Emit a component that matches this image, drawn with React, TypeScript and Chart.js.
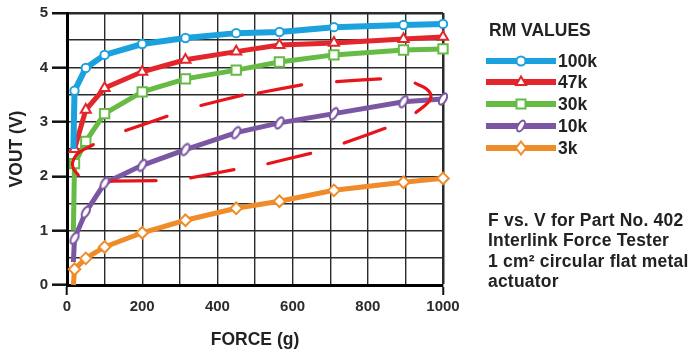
import React, { useEffect, useRef } from 'react';
import { Chart, registerables } from 'chart.js';

Chart.register(...registerables);

// ---------- data ----------
const FORCE = [20, 50, 100, 200, 315, 450, 565, 710, 895, 1000];
const START_FORCE = 17;
const SERIES_NAMES = ['100k', '47k', '30k', '10k', '3k'];
const V_100K = [3.57, 3.99, 4.23, 4.43, 4.54, 4.63, 4.65, 4.74, 4.78, 4.8];
const V_47K = [2.5, 3.22, 3.62, 3.92, 4.14, 4.29, 4.41, 4.45, 4.52, 4.56];
const V_30K = [2.23, 2.64, 3.15, 3.55, 3.79, 3.95, 4.1, 4.23, 4.32, 4.34];
const V_10K = [0.86, 1.34, 1.87, 2.2, 2.49, 2.8, 2.98, 3.15, 3.37, 3.42];
const V_3K = [0.29, 0.49, 0.7, 0.96, 1.19, 1.41, 1.54, 1.74, 1.89, 1.96];
const START_V: (number | null)[] = [2.5, null, 1.0, 0.42, 0];
const SERIES_VALUES = [V_100K, V_47K, V_30K, V_10K, V_3K];

const X_LABEL_STEP = 200;
const Y_LABEL_STEP = 1;

// hand-drawn red dashed annotation, in data coordinates (force, volts)
const ANNOT_SEGMENTS: [number, number][][] = [
  [[70, 2.58], [29, 2.42], [15, 2.26], [17, 2.14], [30, 2.02]],
  [[156, 2.84], [266, 3.1]],
  [[356, 3.3], [467, 3.49]],
  [[509, 3.53], [624, 3.68]],
  [[717, 3.74], [834, 3.79]],
  [[926, 3.71], [957, 3.6], [968, 3.48], [961, 3.36], [928, 3.17]],
  [[737, 2.61], [846, 2.88]],
  [[534, 2.23], [648, 2.42]],
  [[329, 1.97], [444, 2.12]],
  [[119, 1.91], [237, 1.92]],
];

const TITLE_X = 'FORCE (g)';
const TITLE_Y = 'VOUT (V)';
const LEGEND_TITLE = 'RM VALUES';
const NOTE_LINES = [
  'F vs. V for Part No. 402',
  'Interlink Force Tester',
  '1 cm\u00B2 circular flat metal',
  'actuator',
];

// ---------- styles ----------
const COLORS = ['#1ba1dd', '#e3262b', '#66bb44', '#7b57a3', '#f08b2a'];
const RADII = [4.2, 5.8, 6.6, 6, 5.8];
const WIDTHS = [6, 5, 5, 5, 5];
const FONT = '"Liberation Sans", Arial, sans-serif';

function makeOval(color: string) {
  const c = document.createElement('canvas');
  c.width = 18;
  c.height = 18;
  const g = c.getContext('2d')!;
  g.translate(9, 9);
  g.rotate(Math.PI / 6);
  g.beginPath();
  g.ellipse(0, 0, 3.2, 6.2, 0, 0, Math.PI * 2);
  g.fillStyle = '#fff';
  g.fill();
  g.lineWidth = 2;
  g.strokeStyle = color;
  g.stroke();
  return c;
}

function LegendMarker({ idx }: { idx: number }) {
  const c = COLORS[idx];
  const common = { fill: '#fff', stroke: c, strokeWidth: 2 } as any;
  let m: React.ReactNode = null;
  if (idx === 0) m = <circle cx={35} cy={8} r={4.5} {...common} />;
  if (idx === 1) m = <polygon points="35,2.5 40,11 30,11" {...common} />;
  if (idx === 2) m = <rect x={30.5} y={3.5} width={9} height={9} {...common} />;
  if (idx === 3)
    m = <ellipse cx={35} cy={8} rx={3} ry={6} transform="rotate(30 35 8)" {...common} />;
  if (idx === 4) m = <polygon points="35,1.5 40,8 35,14.5 30,8" {...common} />;
  return (
    <svg width={70} height={16} style={{ display: 'block' }}>
      <line x1={0} y1={8} x2={70} y2={8} stroke={c} strokeWidth={6} />
      {m}
    </svg>
  );
}

export default function App() {
  const ref = useRef<HTMLCanvasElement | null>(null);

  useEffect(() => {
    if (!ref.current) return;
    const styles: any[] = ['circle', 'triangle', 'rect', makeOval(COLORS[3]), 'rectRot'];

    const seriesSets = SERIES_NAMES.map((name, i) => {
      const pts = FORCE.map((f, j) => ({ x: f, y: SERIES_VALUES[i][j] }));
      const hasStart = START_V[i] !== null;
      if (hasStart) pts.unshift({ x: START_FORCE, y: START_V[i] as number });
      return {
        label: name,
        data: pts,
        borderColor: COLORS[i],
        backgroundColor: '#fff',
        borderWidth: WIDTHS[i],
        pointStyle: styles[i],
        pointBackgroundColor: '#fff',
        pointBorderColor: COLORS[i],
        pointBorderWidth: 2,
        pointRadius: (ctx: any) => (hasStart && ctx.dataIndex === 0 ? 0 : RADII[i]),
        pointHoverRadius: (ctx: any) => (hasStart && ctx.dataIndex === 0 ? 0 : RADII[i]),
        tension: 0,
        clip: false as any,
        order: i + 1,
      };
    });

    const annotData: any[] = [];
    ANNOT_SEGMENTS.forEach((seg, k) => {
      if (k > 0) annotData.push({ x: seg[0][0], y: null });
      seg.forEach(([x, y]) => annotData.push({ x, y }));
    });

    const annot = {
      label: 'annotation',
      data: annotData,
      borderColor: '#e8141c',
      borderWidth: 3.2,
      borderCapStyle: 'round',
      pointRadius: 0,
      pointHoverRadius: 0,
      tension: 0.4,
      spanGaps: false,
      clip: false as any,
      order: 0,
    };

    const chart = new Chart(ref.current, {
      type: 'line',
      data: { datasets: [...seriesSets, annot] as any },
      options: {
        animation: false,
        responsive: false,
        devicePixelRatio: 1,
        events: [],
        layout: { padding: { top: 12, right: 253, left: 0, bottom: 0 } },
        plugins: { legend: { display: false }, tooltip: { enabled: false } },
        scales: {
          x: {
            type: 'linear',
            min: 0,
            max: 1000,
            afterFit: (s: any) => {
              s.height = 70;
            },
            ticks: {
              stepSize: 100,
              autoSkip: false,
              maxRotation: 0,
              padding: 3,
              color: '#2b2b2b',
              font: { family: FONT, size: 15, weight: 'bold' },
              callback: (v: any) => (Number(v) % X_LABEL_STEP === 0 ? String(v) : ''),
            },
            grid: {
              color: '#2a2a2a',
              lineWidth: (ctx: any) => (ctx.tick && ctx.tick.value === 1000 ? 2.5 : 1.4),
              tickLength: 10,
              tickWidth: 2,
              tickColor: (ctx: any) =>
                ctx.tick && (ctx.tick.value === 0 || ctx.tick.value === 1000) ? '#111' : 'rgba(0,0,0,0)',
            },
            border: { display: true, color: '#000', width: 3 },
            title: {
              display: true,
              text: TITLE_X,
              color: '#222',
              font: { family: FONT, size: 17.5, weight: 'bold' },
              padding: { top: 0, bottom: 4.5 },
            },
          },
          y: {
            type: 'linear',
            min: 0,
            max: 5,
            afterFit: (s: any) => {
              s.width = 67;
            },
            ticks: {
              stepSize: 0.5,
              autoSkip: false,
              padding: 4,
              color: '#2b2b2b',
              font: { family: FONT, size: 15, weight: 'bold' },
              callback: (v: any) => (Number(v) % Y_LABEL_STEP === 0 ? String(v) : ''),
            },
            grid: {
              color: '#2a2a2a',
              lineWidth: (ctx: any) => (ctx.tick && ctx.tick.value === 5 ? 2.5 : 1.4),
              tickLength: 15,
              tickWidth: 2.5,
              tickColor: (ctx: any) =>
                ctx.tick && ctx.tick.value % 1 === 0 ? '#111' : 'rgba(0,0,0,0)',
            },
            border: { display: true, color: '#000', width: 3 },
            title: {
              display: true,
              text: TITLE_Y,
              color: '#222',
              font: { family: FONT, size: 17.5, weight: 'bold' },
              padding: { top: 6.5, bottom: 0 },
            },
          },
        },
      },
    });
    return () => chart.destroy();
  }, []);

  const textStyle: React.CSSProperties = {
    position: 'absolute',
    fontFamily: FONT,
    fontWeight: 'bold',
    fontSize: 17.5,
    lineHeight: '20px',
    color: '#222',
    whiteSpace: 'nowrap',
  };

  const ROW_Y = [61, 82, 104, 126, 148];

  return (
    <div
      style={{
        position: 'fixed',
        left: 0,
        top: 0,
        width: 696,
        height: 355,
        background: '#fff',
        overflow: 'hidden',
      }}
    >
      <canvas ref={ref} width={696} height={355} style={{ position: 'absolute', left: 0, top: 0 }} />
      <div style={{ ...textStyle, left: 489, top: 20 }}>{LEGEND_TITLE}</div>
      {SERIES_NAMES.map((n, i) => (
        <React.Fragment key={n}>
          <div style={{ position: 'absolute', left: 486, top: ROW_Y[i] - 8 }}>
            <LegendMarker idx={i} />
          </div>
          <div style={{ ...textStyle, left: 558, top: ROW_Y[i] - 10 }}>{n}</div>
        </React.Fragment>
      ))}
      {NOTE_LINES.map((t, i) => (
        <div key={i} style={{ ...textStyle, left: 488, top: 210 + i * 20.3, letterSpacing: 0.2 }}>
          {t}
        </div>
      ))}
    </div>
  );
}
